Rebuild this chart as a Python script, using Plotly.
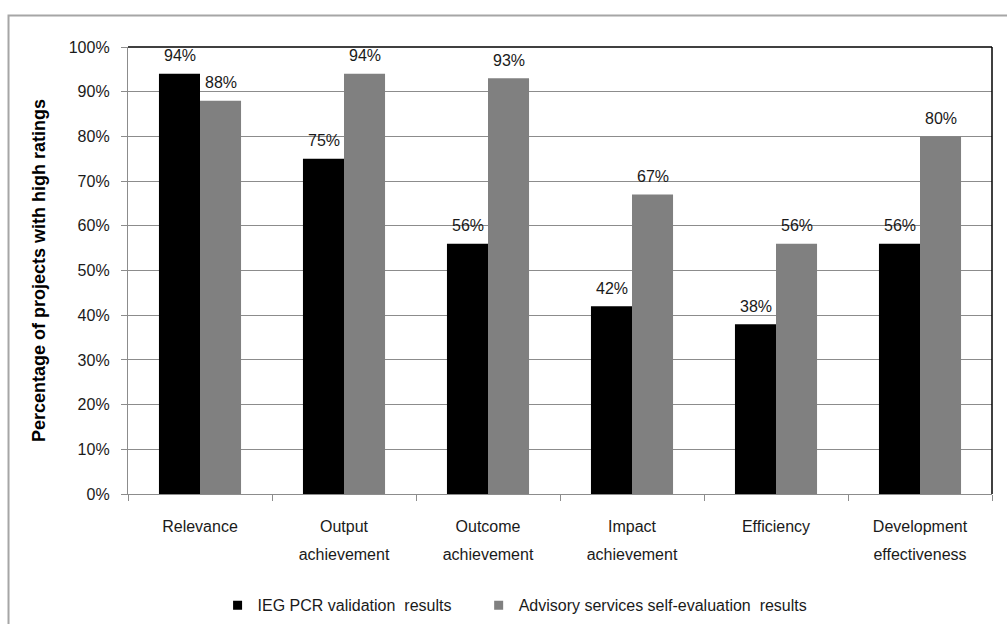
import plotly.graph_objects as go

# Share of projects rated highly, by evaluation criterion
categories = [
    "Relevance",
    "Output<br>achievement",
    "Outcome<br>achievement",
    "Impact<br>achievement",
    "Efficiency",
    "Development<br>effectiveness",
]
ieg_validation = [0.94, 0.75, 0.56, 0.42, 0.38, 0.56]
self_evaluation = [0.88, 0.94, 0.93, 0.67, 0.56, 0.80]
series_names = ["IEG PCR validation  results", "Advisory services self-evaluation  results"]
series_colors = ["#000000", "#808080"]
y_ticks = [i / 10 for i in range(11)]

FONT = "Liberation Sans, Arial, sans-serif"
TEXT = "#1a1a1a"
GRID = "#8c8c8c"

fig = go.Figure()
for i, (name, vals, color) in enumerate(zip(series_names, [ieg_validation, self_evaluation], series_colors)):
    fig.add_trace(go.Bar(
        x=categories, y=vals, name=name, marker=dict(color=color, line=dict(width=0)),
        showlegend=False, hoverinfo="skip",
    ))
    # small square legend keys; pad the first entry to widen the gap between items
    label = name + ("&nbsp;" * 5 if i == 0 else "")
    fig.add_trace(go.Scatter(
        x=[None], y=[None], mode="markers", name=label,
        marker=dict(symbol="square", size=9, color=color),
    ))

# value labels above each bar
for vals, shift in [(ieg_validation, -20.5), (self_evaluation, 20.5)]:
    for cat, v in zip(categories, vals):
        fig.add_annotation(
            x=cat, y=v, text=f"{round(v * 100)}%", showarrow=False,
            xshift=shift, yshift=18, yanchor="middle",
            font=dict(family=FONT, size=16, color=TEXT),
        )

# category tick labels: 16px text on a wider line pitch
tick_text = ["<br>".join(f'<span style="font-size:16px">{part}</span>' for part in c.split("<br>"))
             for c in categories]

# plot frame: black top/right edges, grey outer chart border
fig.add_shape(type="line", xref="paper", yref="paper", x0=0, x1=1, y0=1, y1=1,
              line=dict(color="#000000", width=1.5))
fig.add_shape(type="line", xref="paper", yref="paper", x0=1, x1=1, y0=0, y1=1,
              line=dict(color="#000000", width=1.5))
fig.add_shape(type="rect", xref="paper", yref="paper", x0=-0.1383, x1=1.03, y0=-0.32, y1=1.0705,
              line=dict(color="#a6a6a6", width=2), layer="below")

fig.update_layout(
    width=1007, height=624,
    margin=dict(l=128, r=15, t=47, b=130, autoexpand=False),
    paper_bgcolor="white", plot_bgcolor="white",
    barmode="group", bargap=0.43, bargroupgap=0,
    font=dict(family=FONT, size=16, color=TEXT),
    showlegend=True,
    legend=dict(
        orientation="h", xref="container", yref="container",
        x=0.5115, xanchor="center", y=0.03, yanchor="middle",
        font=dict(family=FONT, size=16, color=TEXT),
        itemwidth=30, tracegroupgap=0,
    ),
    xaxis=dict(
        type="category", tickson="boundaries", ticks="outside", ticklen=6,
        tickcolor=GRID, tickwidth=1.3, showline=True, linecolor=GRID, linewidth=1.3,
        showgrid=False, tickfont=dict(family=FONT, size=22, color=TEXT),
        tickvals=categories, ticktext=tick_text,
        ticklabelstandoff=10,
    ),
    yaxis=dict(
        range=[0, 1], tickvals=y_ticks, tickformat=".0%", ticks="outside", ticklen=6,
        tickcolor=GRID, tickwidth=1.3, showline=True, linecolor=GRID, linewidth=1.3,
        showgrid=True, gridcolor=GRID, gridwidth=1.3, zeroline=False,
        tickfont=dict(family=FONT, size=16, color=TEXT), ticklabelstandoff=8,
        title=dict(text="<b>Percentage of projects with high ratings</b>", standoff=18,
                   font=dict(family=FONT, size=18, color="#000000")),
    ),
)

fig.write_html("out.html")
